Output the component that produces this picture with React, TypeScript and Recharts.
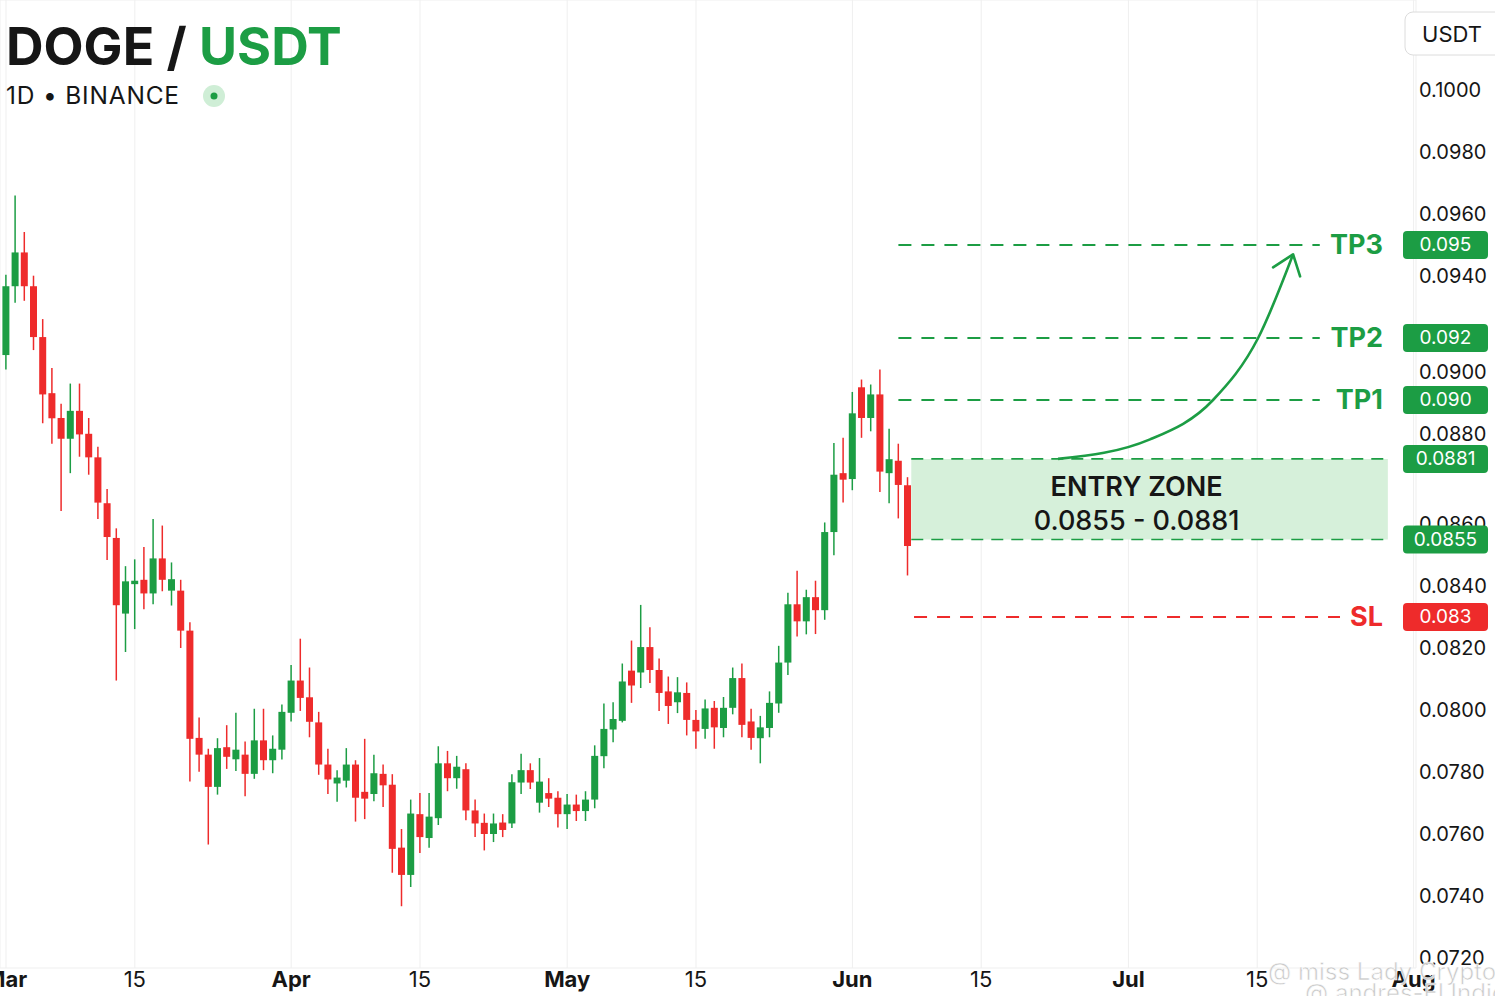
import React from 'react';
import {
  ComposedChart,
  Bar,
  Line,
  XAxis,
  YAxis,
  CartesianGrid,
  ReferenceLine,
  ReferenceArea,
} from 'recharts';

const GREEN = '#1c9d44';
const RED = '#ee2b2b';
const INK = '#161616';

// daily candles, day 0 = 1 Mar
const opens = [
  0.09145, 0.09367, 0.09476, 0.09367, 0.09203, 0.09022, 0.08942, 0.08875, 0.08965, 0.08891,
  0.08815, 0.08667, 0.08555, 0.08311, 0.08406, 0.0842, 0.08376, 0.08489, 0.08385, 0.08385,
  0.08256, 0.0791, 0.07856, 0.07752, 0.0788, 0.07841, 0.07856, 0.07794, 0.07902, 0.07838,
  0.07872, 0.07991, 0.08095, 0.08041, 0.0796, 0.07824, 0.07763, 0.07772, 0.07824, 0.07736,
  0.07729, 0.07794, 0.07759, 0.07556, 0.07468, 0.07664, 0.07587, 0.07651, 0.07828, 0.0778,
  0.07809, 0.07676, 0.07636, 0.076, 0.07637, 0.07634, 0.07766, 0.07806, 0.07701, 0.07732,
  0.07717, 0.07664, 0.07695, 0.07674, 0.07711, 0.07851, 0.07937, 0.07965, 0.08127, 0.08121,
  0.08203, 0.08129, 0.0806, 0.08025, 0.08055, 0.07968, 0.07939, 0.08007, 0.07942, 0.08007,
  0.08103, 0.07963, 0.07909, 0.07942, 0.08021, 0.08153, 0.08341, 0.08286, 0.08364, 0.08322,
  0.08574, 0.08764, 0.08745, 0.09041, 0.08942, 0.09018, 0.08764, 0.08804, 0.08725,
];
const highs = [
  0.09404, 0.0966, 0.09542, 0.09401, 0.09261, 0.09103, 0.08988, 0.09053, 0.09053, 0.08942,
  0.08849, 0.08713, 0.08586, 0.08464, 0.08486, 0.08526, 0.08616, 0.08595, 0.08476, 0.0842,
  0.08283, 0.07976, 0.07875, 0.07909, 0.07951, 0.07991, 0.07898, 0.08004, 0.08004, 0.07918,
  0.08018, 0.08145, 0.0823, 0.08137, 0.07994, 0.07875, 0.07806, 0.07877, 0.07838, 0.07907,
  0.07856, 0.07824, 0.07793, 0.07616, 0.07711, 0.07732, 0.07732, 0.07883, 0.07868, 0.07852,
  0.07828, 0.07711, 0.07666, 0.07666, 0.07664, 0.07793, 0.07859, 0.07828, 0.07845, 0.0778,
  0.07738, 0.07729, 0.07727, 0.07738, 0.07886, 0.08021, 0.08025, 0.0815, 0.08224, 0.08339,
  0.08267, 0.08166, 0.08108, 0.08106, 0.08089, 0.08, 0.08034, 0.08029, 0.08042, 0.08137,
  0.0815, 0.08004, 0.07981, 0.0806, 0.08207, 0.08378, 0.08449, 0.08388, 0.08417, 0.08605,
  0.08861, 0.08878, 0.09026, 0.09066, 0.0905, 0.09098, 0.08907, 0.08859, 0.08751,
];
const lows = [
  0.09098, 0.09314, 0.0932, 0.09161, 0.08925, 0.08859, 0.08642, 0.08764, 0.08817, 0.08759,
  0.08616, 0.08484, 0.08095, 0.08187, 0.08261, 0.08325, 0.08341, 0.08383, 0.08337, 0.082,
  0.07769, 0.07801, 0.07566, 0.07727, 0.0781, 0.07803, 0.07722, 0.07778, 0.07806, 0.07796,
  0.0784, 0.07963, 0.07997, 0.07912, 0.07791, 0.07729, 0.07704, 0.0775, 0.0764, 0.07648,
  0.07706, 0.07687, 0.07475, 0.07367, 0.07429, 0.07539, 0.07556, 0.07629, 0.07738, 0.07746,
  0.07644, 0.0759, 0.07547, 0.07574, 0.0759, 0.07619, 0.07729, 0.07745, 0.07669, 0.07687,
  0.07621, 0.07616, 0.07642, 0.07642, 0.07683, 0.07812, 0.07896, 0.0796, 0.08023, 0.08071,
  0.08087, 0.07997, 0.07955, 0.0799, 0.07918, 0.07875, 0.07907, 0.07875, 0.07912, 0.07986,
  0.07912, 0.07872, 0.07828, 0.07912, 0.07991, 0.08113, 0.08237, 0.08244, 0.08245, 0.08291,
  0.08499, 0.08669, 0.08709, 0.08878, 0.08899, 0.08703, 0.08667, 0.08618, 0.08434,
];
const closes = [
  0.09367, 0.09476, 0.09367, 0.09203, 0.09018, 0.08941, 0.08875, 0.08965, 0.08889, 0.08815,
  0.08669, 0.08558, 0.08338, 0.08415, 0.08417, 0.08376, 0.08489, 0.0842, 0.08422, 0.08256,
  0.07907, 0.07856, 0.07752, 0.07877, 0.07849, 0.07872, 0.07794, 0.07902, 0.07838, 0.07875,
  0.07994, 0.08095, 0.08039, 0.07962, 0.07824, 0.07776, 0.07782, 0.07824, 0.07717, 0.07714,
  0.07796, 0.07757, 0.07552, 0.07468, 0.07666, 0.0759, 0.07656, 0.07828, 0.0778, 0.07817,
  0.07676, 0.07634, 0.076, 0.07634, 0.07613, 0.07767, 0.07806, 0.07766, 0.07769, 0.07714,
  0.07664, 0.07695, 0.07674, 0.07711, 0.07852, 0.07939, 0.07971, 0.08092, 0.08079, 0.08203,
  0.08129, 0.08055, 0.08013, 0.08057, 0.07968, 0.07931, 0.08005, 0.07944, 0.08007, 0.08103,
  0.07952, 0.0791, 0.07944, 0.08023, 0.08153, 0.08341, 0.08286, 0.08364, 0.08322, 0.08574,
  0.08759, 0.08743, 0.08957, 0.08942, 0.09018, 0.08769, 0.08809, 0.08726, 0.08529,
];

const xTickDays = [0, 14, 31, 45, 61, 75, 92, 106, 122, 136, 153];
const xTickLabels = ['Mar', '15', 'Apr', '15', 'May', '15', 'Jun', '15', 'Jul', '15', 'Aug'];
const yTicks = [
  0.072, 0.074, 0.076, 0.078, 0.08, 0.082, 0.084, 0.086, 0.088, 0.09, 0.092, 0.094, 0.096,
  0.098, 0.1,
];
// price labels visible on the right scale (0.0920 sits under the TP2 tag)
const yLabelValues = [
  0.072, 0.074, 0.076, 0.078, 0.08, 0.082, 0.084, 0.086, 0.088, 0.09, 0.094, 0.096, 0.098, 0.1,
];

const targetNames = ['TP3', 'TP2', 'TP1'];
const targetPrices = [0.095, 0.092, 0.09];
const targetBadges = ['0.095', '0.092', '0.090'];
const stopPrice = 0.083;
const stopBadge = '0.083';
const entryLow = 0.0855;
const entryHigh = 0.0881;
const tagPrices = [...targetPrices, entryHigh, entryLow, stopPrice];

// projected move drawn as an arrow
const arrowDays = [114.35, 124.35, 131.2, 136.1, 139.9];
const arrowPrices = [0.0881, 0.08873, 0.09, 0.092, 0.0947];

const X_MIN = -0.652;
const X_MAX = 153.26;
const Y_MIN = 0.0716774;
const Y_MAX = 0.1029032;

const candles = opens.map((open, i) => ({
  day: i,
  open,
  high: highs[i],
  low: lows[i],
  close: closes[i],
}));
const arrowData = arrowDays.map((day, i) => ({ day, price: arrowPrices[i] }));

const Candle = (props: any) => {
  const { x, y, width, height, payload } = props;
  if (!payload || height == null) return <g />;
  const { open, close, high, low } = payload;
  const top = Math.min(y, y + height);
  const h = Math.abs(height);
  const toY = (v: number) => top + ((high - v) / (high - low)) * h;
  const color = close >= open ? GREEN : RED;
  const cx = x + width / 2;
  const bTop = toY(Math.max(open, close));
  const bBot = toY(Math.min(open, close));
  return (
    <g>
      <line x1={cx} x2={cx} y1={top} y2={top + h} stroke={color} strokeWidth={1.5} />
      <rect x={x} y={bTop} width={width} height={Math.max(bBot - bTop, 1.5)} fill={color} />
    </g>
  );
};

const XTick = (props: any) => {
  const { x, y, payload } = props;
  const text = xTickLabels[xTickDays.indexOf(payload.value)] ?? '';
  return (
    <text
      x={x}
      y={y + 19}
      textAnchor="middle"
      fontSize={22}
      fontWeight={text === '15' ? 400 : 700}
      fill={INK}
    >
      {text}
    </text>
  );
};

// right scale label; a label that would sit under a price tag is lifted above it
const priceLabel = (value: number) => (props: any) => {
  const { x, y, width } = props.viewBox;
  const clash = tagPrices.some((p) => Math.abs(p - value) < 0.0003);
  return (
    <text x={x + width + 3} y={clash ? y - 28 : y} dominantBaseline="central" fontSize={20} fill={INK}>
      {value.toFixed(4)}
    </text>
  );
};

const levelTag = (name: string, badge: string, color: string) => (props: any) => {
  const { x, y, width } = props.viewBox;
  const right = x + width;
  return (
    <g>
      {name && (
        <text
          x={right - 33}
          y={y}
          textAnchor="end"
          dominantBaseline="central"
          fontSize={27}
          fontWeight={700}
          fill={color}
        >
          {name}
        </text>
      )}
      <rect x={right - 13} y={y - 14} width={85} height={28} rx={4} fill={color} />
      <text
        x={right + 29.5}
        y={y}
        textAnchor="middle"
        dominantBaseline="central"
        fontSize={19}
        fill="#fff"
      >
        {badge}
      </text>
    </g>
  );
};

const entryLabel = (props: any) => {
  const { x, y, width } = props.viewBox;
  const cx = x + width / 2 - 13;
  return (
    <g>
      <text x={cx} y={y + 28} textAnchor="middle" dominantBaseline="central" fontSize={27} fontWeight={600} fill={INK}>
        ENTRY ZONE
      </text>
      <text x={cx} y={y + 62} textAnchor="middle" dominantBaseline="central" fontSize={27} fontWeight={500} fill={INK}>
        {`${entryLow.toFixed(4)} - ${entryHigh.toFixed(4)}`}
      </text>
    </g>
  );
};

const arrowHead = (props: any) => {
  const { cx, cy, index } = props;
  if (index !== arrowDays.length - 1) return <g key={`dot-${index}`} />;
  return (
    <path
      key="head"
      d={`M${cx - 20},${cy + 13} L${cx},${cy} L${cx + 7},${cy + 22}`}
      stroke={GREEN}
      strokeWidth={2.6}
      fill="none"
      strokeLinecap="round"
      strokeLinejoin="round"
    />
  );
};

export default function App() {
  return (
    <div
      style={{
        position: 'relative',
        width: 1495,
        height: 996,
        background: '#fff',
        fontFamily: 'Inter, "Liberation Sans", sans-serif',
        overflow: 'hidden',
      }}
    >
      <style>{'body{margin:0;background:#fff}'}</style>
      <ComposedChart
        width={1495}
        height={996}
        data={candles}
        margin={{ top: 0, right: 0, bottom: 0, left: 0 }}
      >
        <CartesianGrid stroke="#efefef" />
        <XAxis
          type="number"
          dataKey="day"
          domain={[X_MIN, X_MAX]}
          ticks={xTickDays}
          interval={0}
          allowDataOverflow
          axisLine={false}
          tickLine={false}
          tickSize={0}
          tickMargin={0}
          height={28}
          tick={<XTick />}
        />
        <YAxis
          orientation="right"
          type="number"
          domain={[Y_MIN, Y_MAX]}
          ticks={yTicks}
          interval={0}
          allowDataOverflow
          axisLine={false}
          tickLine={false}
          tick={false}
          width={79}
        />
        {yLabelValues.map((v) => (
          <ReferenceLine key={`ylab-${v}`} y={v} stroke="none" label={priceLabel(v)} />
        ))}
        <ReferenceArea
          x1={98.4}
          x2={150.2}
          y1={entryLow}
          y2={entryHigh}
          fill="#d6f0da"
          fillOpacity={1}
          stroke="none"
          label={entryLabel}
        />
        {targetPrices.map((p) => (
          <ReferenceLine
            key={`seg-${p}`}
            segment={[
              { x: 97, y: p },
              { x: 142.8, y: p },
            ]}
            stroke={GREEN}
            strokeWidth={2}
            strokeDasharray="13 10"
          />
        ))}
        <ReferenceLine
          segment={[
            { x: 98.7, y: stopPrice },
            { x: 145, y: stopPrice },
          ]}
          stroke={RED}
          strokeWidth={2}
          strokeDasharray="13 10"
        />
        {[entryHigh, entryLow].map((p) => (
          <ReferenceLine
            key={`edge-${p}`}
            segment={[
              { x: 98.4, y: p },
              { x: 150.2, y: p },
            ]}
            stroke={GREEN}
            strokeWidth={1.6}
            strokeDasharray="12 8"
          />
        ))}
        <Bar
          dataKey={(d: any) => [d.low, d.high]}
          barSize={7}
          shape={<Candle />}
          isAnimationActive={false}
        />
        <Line
          data={arrowData}
          dataKey="price"
          type="monotoneX"
          stroke={GREEN}
          strokeWidth={2.6}
          dot={arrowHead}
          activeDot={false}
          isAnimationActive={false}
        />
        {targetPrices.map((p, i) => (
          <ReferenceLine
            key={`tag-${p}`}
            y={p}
            stroke="none"
            label={levelTag(targetNames[i], targetBadges[i], GREEN)}
          />
        ))}
        <ReferenceLine y={entryHigh} stroke="none" label={levelTag('', entryHigh.toFixed(4), GREEN)} />
        <ReferenceLine y={entryLow} stroke="none" label={levelTag('', entryLow.toFixed(4), GREEN)} />
        <ReferenceLine y={stopPrice} stroke="none" label={levelTag('SL', stopBadge, RED)} />
      </ComposedChart>

      <svg
        width={1495}
        height={996}
        style={{ position: 'absolute', left: 0, top: 0, pointerEvents: 'none' }}
      >
        <text x={6} y={65} fontSize={52} fontWeight={700} fill={INK}>
          DOGE / <tspan fill={GREEN}>USDT</tspan>
        </text>
        <text x={6} y={104} fontSize={24.5} letterSpacing={0.8} fill={INK}>
          1D • BINANCE
        </text>
        <circle cx={214} cy={96} r={11} fill="#cfeed6" />
        <circle cx={214} cy={96} r={3.5} fill={GREEN} />
        <rect x={1405} y={12} width={110} height={43} rx={8} fill="#fff" stroke="#dcdcdc" />
        <text x={1452} y={34} textAnchor="middle" dominantBaseline="central" fontSize={22} fill={INK}>
          USDT
        </text>
        <g fill="#c9c9c9" stroke="#fff" strokeWidth={0.6} fontSize={24}>
          <text x={1268} y={980}>@ miss Lady Crypto</text>
          <text x={1305} y={1001}>@ andres-El Indio</text>
        </g>
      </svg>
    </div>
  );
}
